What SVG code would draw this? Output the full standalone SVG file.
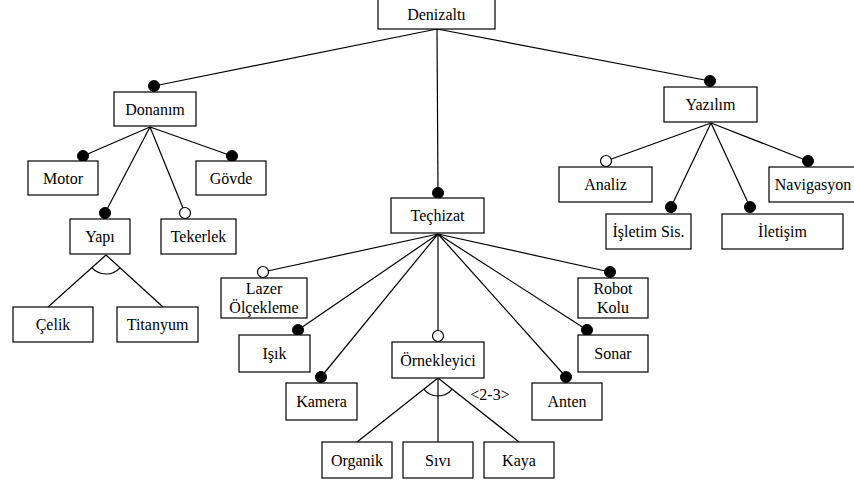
<svg xmlns="http://www.w3.org/2000/svg" width="854" height="484" viewBox="0 0 854 484">
<style>
.box{fill:#fff;stroke:#000;stroke-width:1.2}
.t{font-size:16px;fill:#000;text-anchor:middle}
.ln{stroke:#000;stroke-width:1.2;fill:none}
.m{fill:#000;stroke:#000;stroke-width:1}
.o{fill:#fff;stroke:#000;stroke-width:1.2}
</style>
<rect width="854" height="484" fill="#fff"/>
<g font-family="'Liberation Serif', 'DejaVu Serif', serif">
<g id="connectors">
<line class="ln" x1="437" y1="29" x2="154" y2="86"/>
<line class="ln" x1="437" y1="29" x2="710" y2="81"/>
<line class="ln" x1="437" y1="29" x2="438" y2="193"/>
<line class="ln" x1="150" y1="127" x2="83" y2="156"/>
<line class="ln" x1="150" y1="127" x2="105" y2="213"/>
<line class="ln" x1="150" y1="127" x2="185" y2="213"/>
<line class="ln" x1="150" y1="127" x2="232" y2="156"/>
<line class="ln" x1="106" y1="255" x2="48" y2="307"/>
<line class="ln" x1="106" y1="255" x2="163" y2="307"/>
<path class="ln" d="M91.8,267.7 A19,19 0 0,0 120,267.8"/>
<line class="ln" x1="711" y1="123" x2="606" y2="161"/>
<line class="ln" x1="711" y1="123" x2="671" y2="207"/>
<line class="ln" x1="711" y1="123" x2="750" y2="207"/>
<line class="ln" x1="711" y1="123" x2="808" y2="161"/>
<line class="ln" x1="438" y1="234" x2="263" y2="272"/>
<line class="ln" x1="438" y1="234" x2="298" y2="330"/>
<line class="ln" x1="438" y1="234" x2="321" y2="377"/>
<line class="ln" x1="438" y1="234" x2="438" y2="336"/>
<line class="ln" x1="438" y1="234" x2="566" y2="377"/>
<line class="ln" x1="438" y1="234" x2="587" y2="330"/>
<line class="ln" x1="438" y1="234" x2="610" y2="272"/>
<line class="ln" x1="438" y1="378" x2="357" y2="442"/>
<line class="ln" x1="438" y1="378" x2="438" y2="442"/>
<line class="ln" x1="438" y1="378" x2="519" y2="442"/>
<path class="ln" d="M423.9,389.2 A18,18 0 0,0 452.1,389.2"/>
<text class="t" x="490" y="400">&lt;2-3&gt;</text>
<circle class="m" cx="154" cy="86" r="5.5"/>
<circle class="m" cx="710" cy="81" r="5.5"/>
<circle class="m" cx="438" cy="193" r="5.5"/>
<circle class="m" cx="83" cy="156" r="5.5"/>
<circle class="m" cx="105" cy="213" r="5.5"/>
<circle class="o" cx="185" cy="213" r="5.5"/>
<circle class="m" cx="232" cy="156" r="5.5"/>
<circle class="o" cx="606" cy="161" r="5.5"/>
<circle class="m" cx="671" cy="207" r="5.5"/>
<circle class="m" cx="750" cy="207" r="5.5"/>
<circle class="m" cx="808" cy="161" r="5.5"/>
<circle class="o" cx="263" cy="272" r="5.5"/>
<circle class="m" cx="298" cy="330" r="5.5"/>
<circle class="m" cx="321" cy="377" r="5.5"/>
<circle class="o" cx="438" cy="336" r="5.5"/>
<circle class="m" cx="566" cy="377" r="5.5"/>
<circle class="m" cx="587" cy="330" r="5.5"/>
<circle class="m" cx="610" cy="272" r="5.5"/>
</g>
<g id="denizalti"><rect class="box" x="378" y="-1" width="117" height="30"/><text class="t" x="436.5" y="20">Denizaltı</text></g>
<g id="donanim"><rect class="box" x="114" y="92" width="82" height="34"/><text class="t" x="155" y="114.5">Donanım</text></g>
<g id="motor"><rect class="box" x="28" y="161" width="70" height="34"/><text class="t" x="63" y="183.5">Motor</text></g>
<g id="govde"><rect class="box" x="196" y="161" width="70" height="34"/><text class="t" x="231" y="183.5">Gövde</text></g>
<g id="yapi"><rect class="box" x="70" y="219" width="60" height="35"/><text class="t" x="100" y="242">Yapı</text></g>
<g id="tekerlek"><rect class="box" x="161" y="219" width="75" height="35"/><text class="t" x="198.5" y="242">Tekerlek</text></g>
<g id="celik"><rect class="box" x="13" y="307" width="80" height="35"/><text class="t" x="53" y="330">Çelik</text></g>
<g id="titanyum"><rect class="box" x="117" y="307" width="81" height="35"/><text class="t" x="157.5" y="330">Titanyum</text></g>
<g id="yazilim"><rect class="box" x="664" y="87" width="93" height="35"/><text class="t" x="710.5" y="110">Yazılım</text></g>
<g id="analiz"><rect class="box" x="559" y="167" width="93" height="35"/><text class="t" x="605.5" y="190">Analiz</text></g>
<g id="navigasyon"><rect class="box" x="769" y="167" width="92" height="35"/><text class="t" x="813" y="190">Navigasyon</text></g>
<g id="isletim"><rect class="box" x="606" y="214" width="85" height="35"/><text class="t" x="648.5" y="237">İşletim Sis.</text></g>
<g id="iletisim"><rect class="box" x="722" y="214" width="121" height="35"/><text class="t" x="782.5" y="237">İletişim</text></g>
<g id="techizat"><rect class="box" x="391" y="198" width="93" height="35"/><text class="t" x="437.5" y="221">Teçhizat</text></g>
<g id="lazer"><rect class="box" x="221" y="278" width="86" height="40"/><text class="t" x="264" y="293.5">Lazer</text><text class="t" x="264" y="312.5">Ölçekleme</text></g>
<g id="robot"><rect class="box" x="578" y="278" width="70" height="40"/><text class="t" x="613" y="293.5">Robot</text><text class="t" x="613" y="312.5">Kolu</text></g>
<g id="isik"><rect class="box" x="239" y="335" width="71" height="37"/><text class="t" x="274.5" y="359">Işık</text></g>
<g id="kamera"><rect class="box" x="286" y="383" width="71" height="37"/><text class="t" x="321.5" y="407">Kamera</text></g>
<g id="ornekleyici"><rect class="box" x="392" y="342" width="92" height="36"/><text class="t" x="438" y="365.5">Örnekleyici</text></g>
<g id="sonar"><rect class="box" x="578" y="335" width="70" height="37"/><text class="t" x="613" y="359">Sonar</text></g>
<g id="anten"><rect class="box" x="532" y="383" width="70" height="37"/><text class="t" x="567" y="407">Anten</text></g>
<g id="organik"><rect class="box" x="322" y="442" width="70" height="36"/><text class="t" x="357" y="465.5">Organik</text></g>
<g id="sivi"><rect class="box" x="403" y="442" width="70" height="36"/><text class="t" x="438" y="465.5">Sıvı</text></g>
<g id="kaya"><rect class="box" x="484" y="442" width="70" height="36"/><text class="t" x="519" y="465.5">Kaya</text></g>
</g>
</svg>
